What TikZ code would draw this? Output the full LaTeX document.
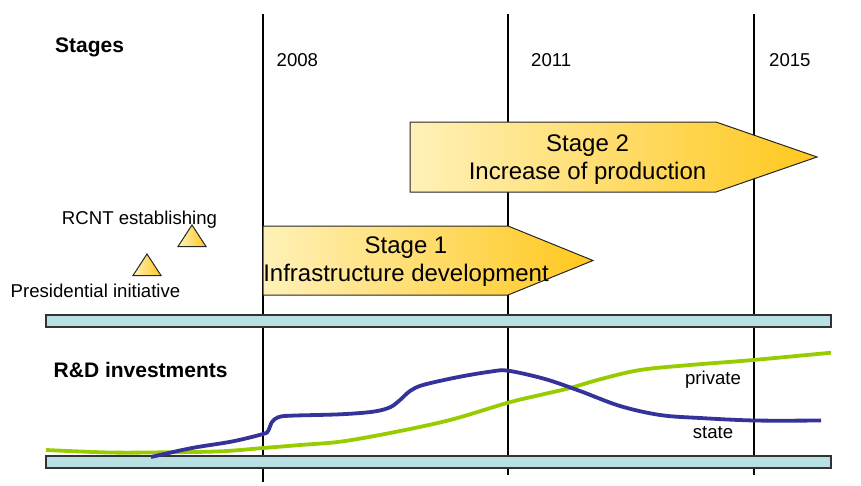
\documentclass[tikz,border=0pt]{standalone}
\usepackage{fontspec}
\setmainfont{Liberation Sans}
\usetikzlibrary{positioning}
\definecolor{barcyan}{HTML}{B9E1E4}
\definecolor{stagelight}{HTML}{FFF1B8}
\definecolor{stagedark}{HTML}{FFC81E}
\definecolor{statecol}{HTML}{333399}
\definecolor{privatecol}{HTML}{99CC00}
\tikzset{yearline/.style={line width=2pt},
bandbar/.style={draw=black!80,fill=barcyan,line width=1.2pt},
stagearrow/.style={draw=black!85,line width=1pt,left color=stagelight,right color=stagedark},
milestone/.style={draw=black!85,line width=1pt,left color=stagelight,right color=stagedark},
stagetext/.style={font=\fontsize{24}{28}\selectfont,align=center,inner sep=0pt},
smalltext/.style={font=\fontsize{18.6}{21}\selectfont,inner sep=0pt},
headtext/.style={font=\fontsize{21}{24}\selectfont\bfseries,inner sep=0pt},
invcurve/.style={line width=3.8pt,smooth,tension=0.55}}

\begin{document}
\begin{tikzpicture}[x=1pt,y=-1pt]
\useasboundingbox (0,0) rectangle (861,485);
% year lines
\foreach \x/\yb/\lx/\yr in {263/482/276.5/2008,508/475/531/2011,754/475/769/2015}{
\draw[yearline] (\x,14) -- (\x,\yb);
\node[smalltext,anchor=base west] (year\yr) at (\lx,66.7) {\yr};
}
\draw[bandbar] (46,315) rectangle (831,327);
\draw[bandbar] (46,456) rectangle (831,468);
% stages
\draw[stagearrow] (263,226) -- (508,226) -- (593,260.5) -- (508,295) -- (263,295) -- cycle;
\draw[stagearrow] (410,122) -- (716,122) -- (817,157) -- (716,192) -- (410,192) -- cycle;
\node[stagetext] (stageone) at (406,262) {Stage 1\\Infrastructure development};
\node[stagetext] (stagetwo) at (587.5,160) {Stage 2\\Increase of production};
\foreach \x/\y in {192/225,147/254}
\draw[milestone] (\x,\y) -- ++(14,21.5) -- ++(-28,0) -- cycle;
\node[smalltext,anchor=base] (rcnt) at (139.5,224) {RCNT establishing};
\node[smalltext,anchor=base] (presinit) at (95.5,297.7) {Presidential initiative};
\node[headtext,anchor=base west] (stages) at (55,52.7) {Stages};
\node[headtext,anchor=base west] (rdinv) at (53.5,377.7) {R\&D investments};
% investments
\draw[invcurve,privatecol] plot coordinates {(46,450) (110,452.5) (165,452.3) (221,451.3) (263,448) (300,445) (340,441.7) (390,433) (450,420) (508,402.7) (540,395) (570,388) (600,379.3) (640,370) (690,365) (753,360) (831,352.7)};
\draw[invcurve,statecol] plot coordinates {(151,457) (192,448) (232,441.5) (263,434) (268,431) (272,422) (278,417.3) (290,415.7) (340,414.3) (373,411.7) (390,407.3) (400,400) (410,391) (423,385) (457,377.3) (490,371.7) (508,370.7) (545,379) (580,391) (620,406) (660,415) (700,418) (755,420.5) (821,420.5)};
\node[smalltext,anchor=base] (private) at (713,384) {private};
\node[smalltext,anchor=base] (state) at (713,438.3) {state};
\end{tikzpicture}
\end{document}
